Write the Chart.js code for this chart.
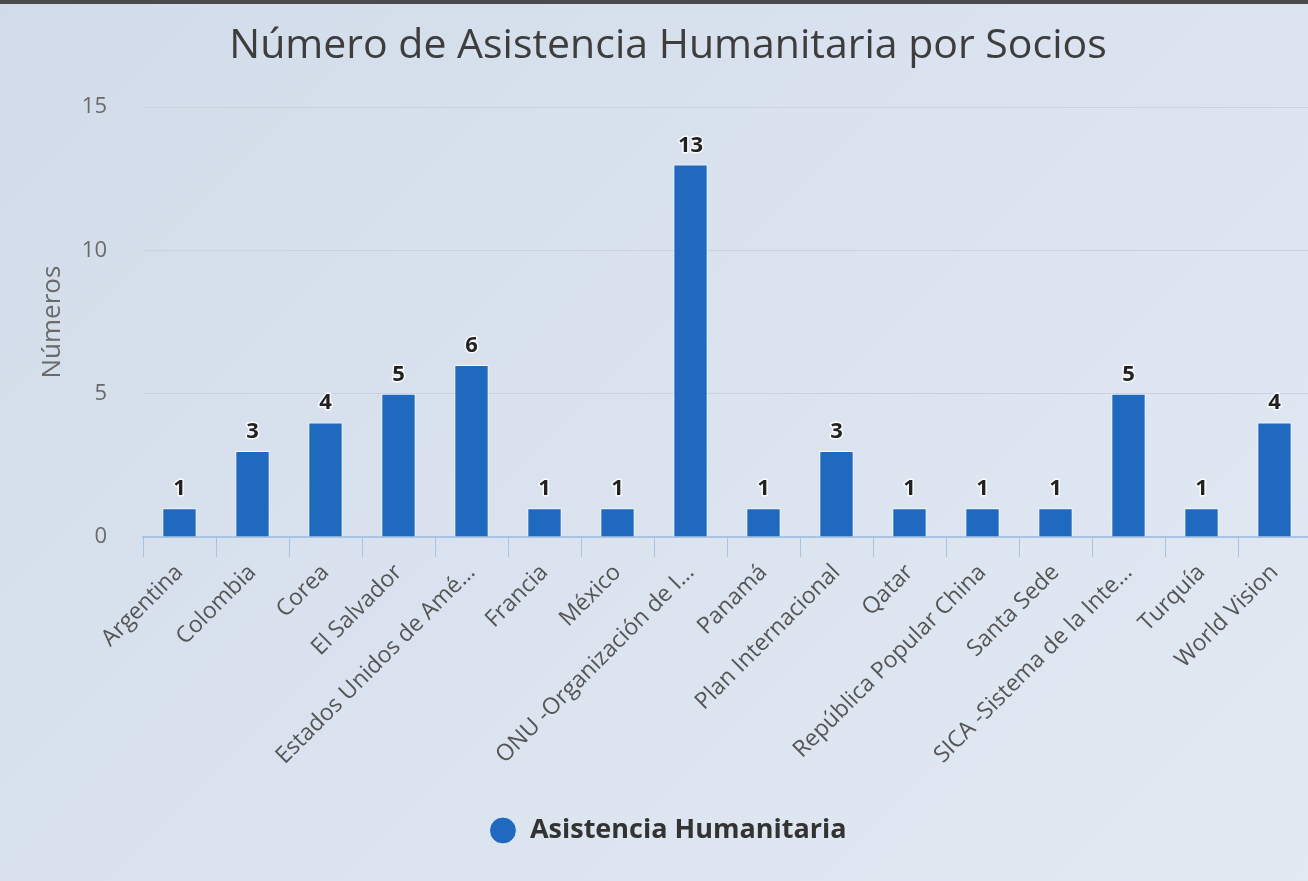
<!DOCTYPE html>
<html>
<head>
<meta charset="utf-8">
<script src="https://cdn.jsdelivr.net/npm/chart.js@4"></script>
<style>
html,body{margin:0;padding:0;overflow:hidden;width:1308px;height:881px;}
body{background:linear-gradient(135deg,#d2dbe9 0%,#d9e2ee 45%,#e2e9f3 100%);}
#topbar{position:absolute;left:0;top:0;width:1308px;height:4px;background:#4a4a4a;z-index:2;}
#wrap{position:absolute;left:0;top:0;width:1311px;height:881px;}
</style>
</head>
<body>
<div id="topbar"></div>
<div id="wrap"><canvas id="c"></canvas></div>
<script>
const categories = ["Argentina","Colombia","Corea","El Salvador","Estados Unidos de Amé…","Francia","México","ONU -Organización de I…","Panamá","Plan Internacional","Qatar","República Popular China","Santa Sede","SICA -Sistema de la Inte…","Turquía","World Vision"];
const values = [1,3,4,5,6,1,1,13,1,3,1,1,1,5,1,4];
const yTicks = [0,5,10,15];
const seriesName = "Asistencia Humanitaria";
const titleText = "Número de Asistencia Humanitaria por Socios";
const yTitle = "Números";

const labelPlugin = {
  id:'valueLabels',
  afterDatasetsDraw(chart){
    const ctx = chart.ctx;
    const meta = chart.getDatasetMeta(0);
    ctx.save();
    ctx.font = 'bold 22px "Open Sans", sans-serif';
    ctx.textAlign = 'center';
    ctx.textBaseline = 'alphabetic';
    ctx.lineJoin = 'round';
    meta.data.forEach((el,i)=>{
      const v = chart.data.datasets[0].data[i];
      const x = el.x, y = el.y - 13;
      ctx.lineWidth = 3;
      ctx.strokeStyle = 'rgba(255,255,255,0.85)';
      ctx.strokeText(String(v), x, y);
      ctx.fillStyle = '#222';
      ctx.fillText(String(v), x, y);
    });
    ctx.restore();
  }
};

new Chart(document.getElementById('c'), {
  type:'bar',
  data:{
    labels:categories,
    datasets:[{
      label:seriesName,
      data:values,
      backgroundColor:'#1f6abf',
      borderColor:'rgba(255,255,255,0.8)',
      borderWidth:1,
      categoryPercentage:1,
      barPercentage:0.47
    }]
  },
  options:{
    responsive:true,
    maintainAspectRatio:false,
    animation:false,
    layout:{padding:{left:25,right:0,top:0,bottom:27}},
    plugins:{
      title:{display:true,text:titleText,color:'#3d3d3d',font:{family:'"Open Sans", sans-serif',size:41,weight:'normal'},padding:{top:22,bottom:36}},
      legend:{position:'bottom',labels:{usePointStyle:true,pointStyle:'circle',boxWidth:27,boxHeight:19,color:'#333',padding:10,font:{family:'"Open Sans", sans-serif',size:27,weight:'bold'}}},
      tooltip:{enabled:false}
    },
    scales:{
      x:{
        offset:true,
        grid:{offset:true,drawOnChartArea:false,drawTicks:true,tickLength:20,color:'#a9c4e2',lineWidth:1},
        border:{display:true,color:'#a9c4e2',width:2},
        ticks:{autoSkip:false,maxRotation:45,minRotation:45,color:'#555',padding:2,font:{family:'"Open Sans", sans-serif',size:23}},
        afterFit(s){s.height=270;}
      },
      y:{
        min:0,max:15,
        afterBuildTicks(s){s.ticks=yTicks.map(v=>({value:v}));},
        grid:{color:'#cad2de',lineWidth:1,drawTicks:false},
        border:{display:false},
        ticks:{color:'#6a6a6a',padding:36,font:{family:'"Open Sans", sans-serif',size:22}},
        title:{display:true,text:yTitle,color:'#6a6a6a',font:{family:'"Open Sans", sans-serif',size:26},padding:{top:12,bottom:0}},
        afterFit(s){s.width=118;}
      }
    }
  },
  plugins:[labelPlugin]
});
</script>
</body>
</html>
